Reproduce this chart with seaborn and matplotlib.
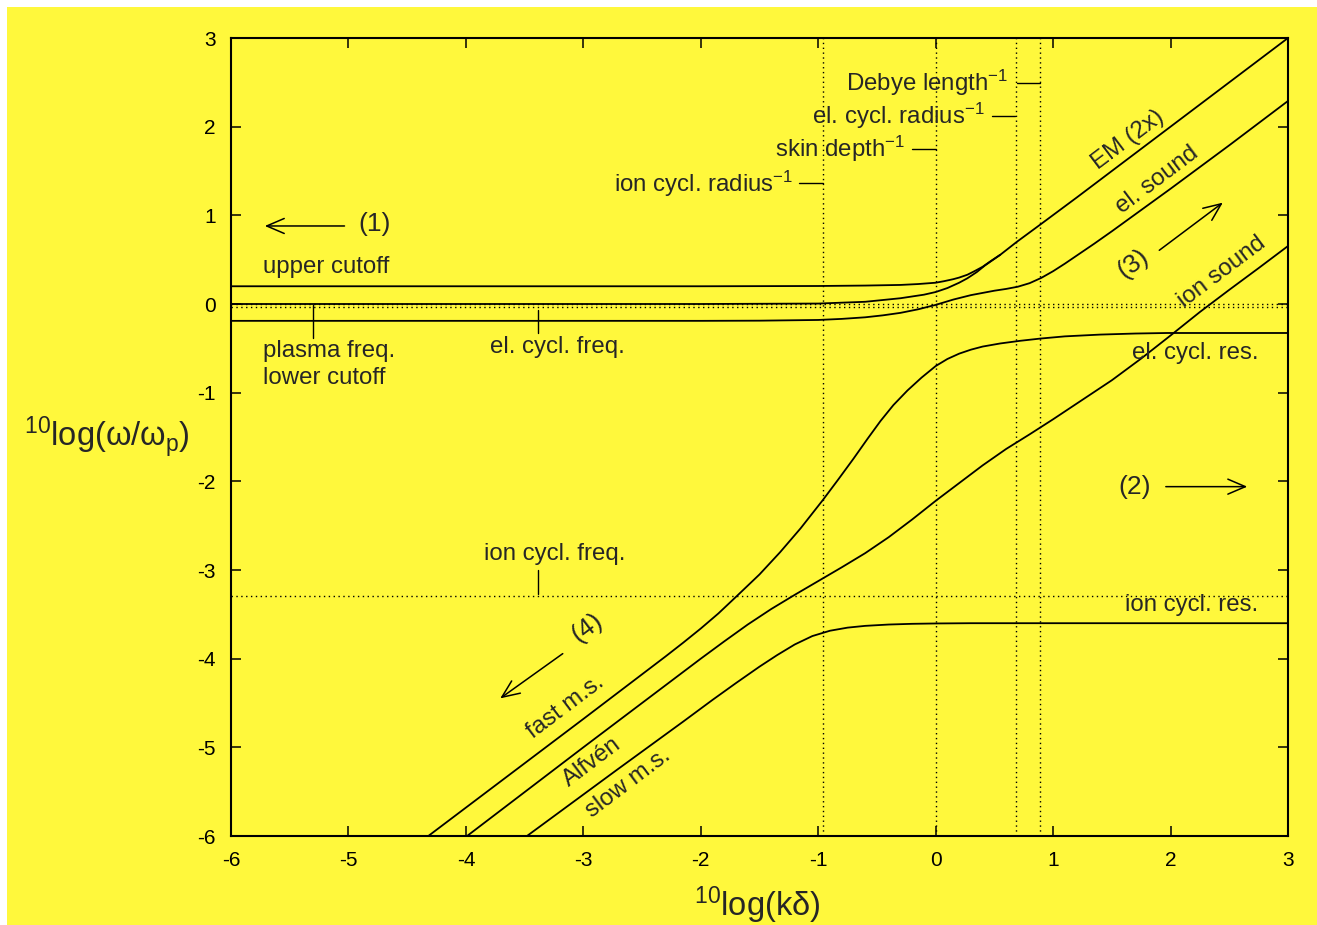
import matplotlib
matplotlib.use("Agg")
import matplotlib.pyplot as plt
import seaborn as sns
from matplotlib.patches import Rectangle

# ---------------- data ----------------
upper_x = [-6, -2, -1, -0.6, -0.3, -0.15, 0.0, 0.07, 0.15, 0.2, 0.27, 0.33, 0.4, 0.47, 0.55, 0.69, 0.89, 1.2, 1.6, 2.0, 2.5, 3.0]
upper_y = [0.20, 0.20, 0.203, 0.208, 0.215, 0.225, 0.24, 0.257, 0.28, 0.298, 0.33, 0.37, 0.42, 0.485, 0.555, 0.70, 0.895, 1.20, 1.60, 2.0, 2.5, 3.0]

plasma_x = [-6, -2, -1, -0.6, -0.3, -0.1, 0.0, 0.1, 0.2, 0.27, 0.35, 0.42, 0.55]
plasma_y = [0.0, 0.0, 0.005, 0.025, 0.065, 0.105, 0.135, 0.18, 0.24, 0.29, 0.36, 0.435, 0.555]

lower_x = [-6, -2, -1.5, -1, -0.8, -0.6, -0.45, -0.3, -0.15, 0.0, 0.15, 0.3, 0.5, 0.6, 0.7, 0.8, 0.9,
           1.0, 1.1, 1.2, 1.35, 1.5, 1.75, 2.0, 2.5, 3.0]
lower_y = [-0.19, -0.19, -0.188, -0.18, -0.168, -0.15, -0.128, -0.10, -0.06, -0.01, 0.05, 0.10, 0.15, 0.17, 0.195, 0.235, 0.295,
           0.37, 0.455, 0.545, 0.68, 0.82, 1.06, 1.30, 1.79, 2.29]

fast_x = [-4.32, -3.0, -2.3, -2.15, -2.0, -1.85, -1.69, -1.5, -1.325, -1.15, -0.96, -0.83, -0.70, -0.58, -0.47,
          -0.36, -0.24, -0.12, 0.0, 0.1, 0.2, 0.3, 0.4, 0.55, 0.72, 0.89, 1.1, 1.4, 1.7, 1.97, 3.0]
fast_y = [-6.0, -4.68, -3.975, -3.82, -3.66, -3.49, -3.29, -3.05, -2.80, -2.53, -2.21, -1.98, -1.745, -1.52, -1.32,
          -1.14, -0.975, -0.83, -0.70, -0.62, -0.56, -0.515, -0.48, -0.445, -0.415, -0.39, -0.365, -0.345, -0.333, -0.327, -0.327]

alfven_x = [-3.99, -3.0, -2.0, -1.8, -1.6, -1.4, -1.2, -1.0, -0.8, -0.6, -0.4, -0.2, 0.0, 0.2, 0.4, 0.6, 0.8,
            1.0, 1.25, 1.5, 1.75, 2.0, 2.25, 2.5, 2.75, 3.0]
alfven_y = [-6.0, -5.0, -4.0, -3.805, -3.615, -3.44, -3.28, -3.125, -2.97, -2.81, -2.63, -2.43, -2.22, -2.02, -1.82, -1.635, -1.47,
            -1.3, -1.08, -0.86, -0.615, -0.355, -0.09, 0.16, 0.405, 0.654]

slow_x = [-3.48, -2.71, -2.15, -1.9, -1.7, -1.5, -1.35, -1.2, -1.05, -0.9, -0.75, -0.6, -0.4, -0.2, 0.0, 0.3, 0.6, 3.0]
slow_y = [-6.0, -5.25, -4.71, -4.465, -4.275, -4.09, -3.96, -3.84, -3.745, -3.685, -3.65, -3.63, -3.615, -3.607, -3.603, -3.60, -3.60, -3.60]

vlines_x = [-0.96, 0.0, 0.685, 0.89]
hlines_y = [0.0, -0.035, -3.29]

x_ticks = [-6, -5, -4, -3, -2, -1, 0, 1, 2, 3]
y_ticks = [-6, -5, -4, -3, -2, -1, 0, 1, 2, 3]

# ---------------- style ----------------
YELLOW = "#FFF83C"
sns.set_theme(style="ticks")
plt.rcParams["font.family"] = ["Liberation Sans", "DejaVu Sans"]
plt.rcParams["mathtext.fontset"] = "custom"
plt.rcParams["mathtext.rm"] = "Liberation Sans"
plt.rcParams["mathtext.it"] = "Liberation Sans:italic"
plt.rcParams["mathtext.bf"] = "Liberation Sans:bold"
plt.rcParams["axes.unicode_minus"] = False

fig = plt.figure(figsize=(13.17, 9.25), dpi=100, facecolor="white")
fig.patches.append(Rectangle((7 / 1317, 0), 1, 1 - 7 / 925, transform=fig.transFigure,
                             facecolor=YELLOW, edgecolor="none", zorder=-10))
ax = fig.add_axes([231 / 1317, 1 - 836 / 925, (1288 - 231) / 1317, (836 - 38) / 925])
ax.set_facecolor(YELLOW)

LW = 1.3
for xs, ys in [(upper_x, upper_y), (plasma_x, plasma_y), (lower_x, lower_y),
               (fast_x, fast_y), (alfven_x, alfven_y), (slow_x, slow_y)]:
    sns.lineplot(x=xs, y=ys, ax=ax, color="black", lw=LW, estimator=None, sort=False, zorder=3)

dot = dict(color="black", lw=1.0, linestyle=(0, (1, 2.5)), zorder=2)
for xv in vlines_x:
    ax.axvline(xv, **dot)
for yv in hlines_y:
    ax.axhline(yv, **dot)

ax.set_xlim(-6, 3)
ax.set_ylim(-6, 3)
ax.set_xticks(x_ticks)
ax.set_yticks(y_ticks)
ax.tick_params(direction="in", length=7.2, width=1.1, top=True, right=True,
               labelsize=15, colors="black", pad=11)
for s in ax.spines.values():
    s.set_linewidth(1.5)
    s.set_color("black")
    s.set_visible(True)
ax.set_xlabel("")
ax.set_ylabel("")

# axis labels
fig.text(107 / 1317, 1 - 437 / 925, r"$^{\mathregular{10}}$log(ω/ω$_{\mathregular{p}}$)",
         ha="center", va="center", fontsize=23.5)
fig.text(757 / 1317, 1 - 905 / 925, r"$^{\mathregular{10}}$log(kδ)",
         ha="center", va="center", fontsize=23.5)

FS = 17.3
# flat labels
ax.text(-5.73, 0.42, "upper cutoff", fontsize=FS, ha="left", va="center")
ax.text(-5.73, -0.53, "plasma freq.", fontsize=FS, ha="left", va="center")
ax.text(-5.73, -0.83, "lower cutoff", fontsize=FS, ha="left", va="center")
ax.text(-3.795, -0.485, "el. cycl. freq.", fontsize=FS, ha="left", va="center")
ax.text(-3.846, -2.82, "ion cycl. freq.", fontsize=FS, ha="left", va="center")
ax.text(2.745, -0.55, "el. cycl. res.", fontsize=FS, ha="right", va="center")
ax.text(2.745, -3.40, "ion cycl. res.", fontsize=FS, ha="right", va="center")

# small marker ticks
ax.plot([-5.30, -5.30], [-0.01, -0.38], color="black", lw=1.0)
ax.plot([-3.386, -3.386], [-0.07, -0.33], color="black", lw=1.0)
ax.plot([-3.386, -3.386], [-3.0, -3.27], color="black", lw=1.0)

# top length-scale annotations
scales = [("Debye length", 0.616, 0.693, 0.889, 2.49),
          ("el. cycl. radius", 0.42, 0.48, 0.676, 2.12),
          ("skin depth", -0.261, -0.20, 0.0, 1.75),
          ("ion cycl. radius", -1.215, -1.164, -0.96, 1.36)]
for lab, tx, x0, x1, yv in scales:
    ax.text(tx, yv, lab + r"$^{\mathregular{-1}}$", fontsize=FS, ha="right", va="center")
    ax.plot([x0, x1], [yv, yv], color="black", lw=1.0)

# rotated curve labels
ROT = 37
for lab, tx, ty in [("EM (2x)", 1.638, 1.85), ("el. sound", 1.885, 1.40), ("ion sound", 2.44, 0.36),
                    ("fast m.s.", -3.156, -4.545), ("Alfvén", -2.926, -5.165), ("slow m.s.", -2.62, -5.40)]:
    ax.text(tx, ty, lab, fontsize=FS, ha="center", va="center", rotation=ROT, rotation_mode="anchor")

# numbered arrows
arr = dict(arrowstyle="->,head_length=0.7,head_width=0.3", lw=1.1, color="black", mutation_scale=18)
ax.annotate("", xy=(-5.736, 0.88), xytext=(-5.01, 0.88), arrowprops=arr)
ax.text(-4.774, 0.90, "(1)", fontsize=19, ha="center", va="center")
ax.annotate("", xy=(2.677, -2.06), xytext=(1.936, -2.06), arrowprops=arr)
ax.text(1.697, -2.06, "(2)", fontsize=19, ha="center", va="center")
ax.annotate("", xy=(2.464, 1.162), xytext=(1.885, 0.587), arrowprops=arr)
ax.text(1.68, 0.46, "(3)", fontsize=19, ha="center", va="center", rotation=ROT, rotation_mode="anchor")
ax.annotate("", xy=(-3.727, -4.466), xytext=(-3.156, -3.925), arrowprops=arr)
ax.text(-2.97, -3.65, "(4)", fontsize=19, ha="center", va="center", rotation=ROT, rotation_mode="anchor")

fig.savefig("out.png", dpi=100, facecolor=fig.get_facecolor())
